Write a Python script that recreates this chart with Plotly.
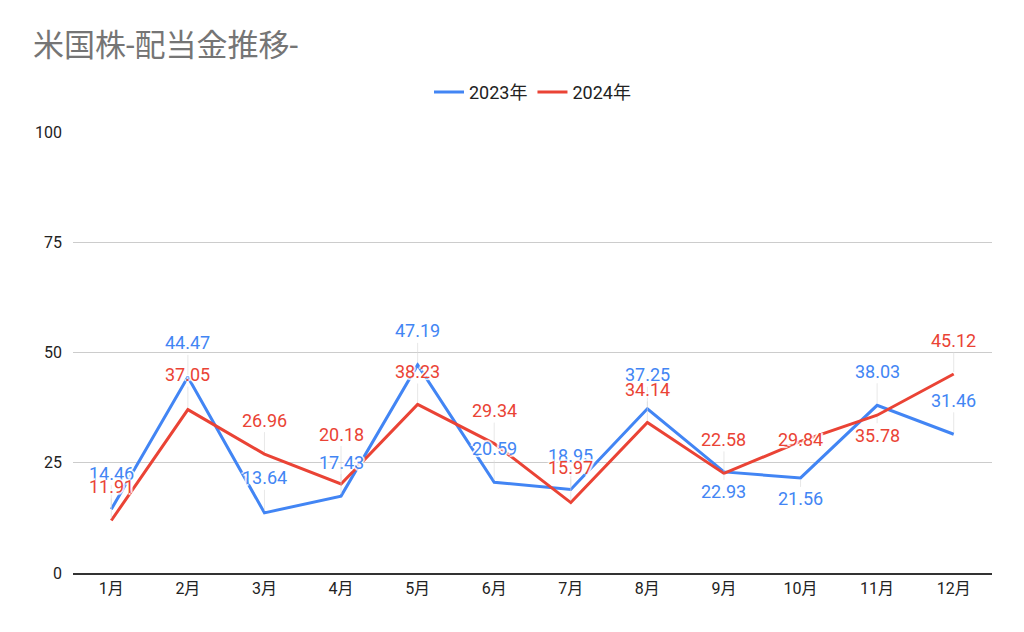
import plotly.graph_objects as go

# === データ ===
months = ['1月', '2月', '3月', '4月', '5月', '6月', '7月', '8月', '9月', '10月', '11月', '12月']
div_2023 = [14.46, 44.47, 13.64, 17.43, 47.19, 20.59, 18.95, 37.25, 22.93, 21.56, 38.03, 31.46]
div_2024 = [11.91, 37.05, 26.96, 20.18, 38.23, 29.34, 15.97, 34.14, 22.58, 29.84, 35.78, 45.12]
y_ticks = [0, 25, 50, 75, 100]

# ラベルの縦オフセット (px, 負 = 上)
label_dy_2023 = [-36, -34, -35, -34, -34, -34, -34, -34, 20, 21, -34, -34]
label_dy_2024 = [-34, -35, -34, -50, -33, -33, -35, -33, -34, -2, 20, -34]

BLUE = '#4285F4'
RED = '#EA4335'
HALO = 'white 2px 0 1px, white -2px 0 1px, white 0 2px 1px, white 0 -2px 1px'
FONT = 'Roboto, Noto Sans CJK JP'

fig = go.Figure()
fig.add_trace(go.Scatter(x=months, y=div_2023, mode='lines', name='2023年',
                         line=dict(color=BLUE, width=3)))
fig.add_trace(go.Scatter(x=months, y=div_2024, mode='lines', name='2024年',
                         line=dict(color=RED, width=3)))

for vals, dys, color in [(div_2023, label_dy_2023, BLUE), (div_2024, label_dy_2024, RED)]:
    for m, v, dy in zip(months, vals, dys):
        fig.add_annotation(
            x=m, y=v, text=f'{v:.2f}', showarrow=True, arrowhead=0,
            arrowwidth=0.6, arrowcolor='#d9d9d9', ax=0, ay=dy, standoff=2,
            font=dict(family='Roboto', size=18, color=color, shadow=HALO)
        )

# ページ余白 (8px) を差し引いたサイズ
fig.update_layout(
    width=1008, height=616,
    paper_bgcolor='white', plot_bgcolor='white',
    margin=dict(l=65, r=24, t=124, b=51),
    title=dict(text='米国株-配当金推移-', x=25 / 1008, xanchor='left',
               y=1 - 37 / 616, yanchor='middle',
               font=dict(family=FONT, size=31, color='#757575')),
    legend=dict(orientation='h', x=0.5, xanchor='center', y=1.09, yanchor='middle',
                font=dict(family=FONT, size=18, color='#222222'),
                itemwidth=30, traceorder='normal'),
    font=dict(family=FONT, size=15, color='#222222'),
    xaxis=dict(type='category', range=[-0.5, 11.5], showgrid=False,
               showline=True, linecolor='#333333', linewidth=1.5,
               ticks='', tickfont=dict(size=16, color='#222222')),
    yaxis=dict(range=[0, 100], tickvals=y_ticks, showgrid=True, gridcolor='#cccccc',
               gridwidth=1, zeroline=False, showline=False, ticks='',
               ticklabelstandoff=10, tickfont=dict(size=16, color='#222222')),
    showlegend=True,
)

fig.write_html('out.html')
